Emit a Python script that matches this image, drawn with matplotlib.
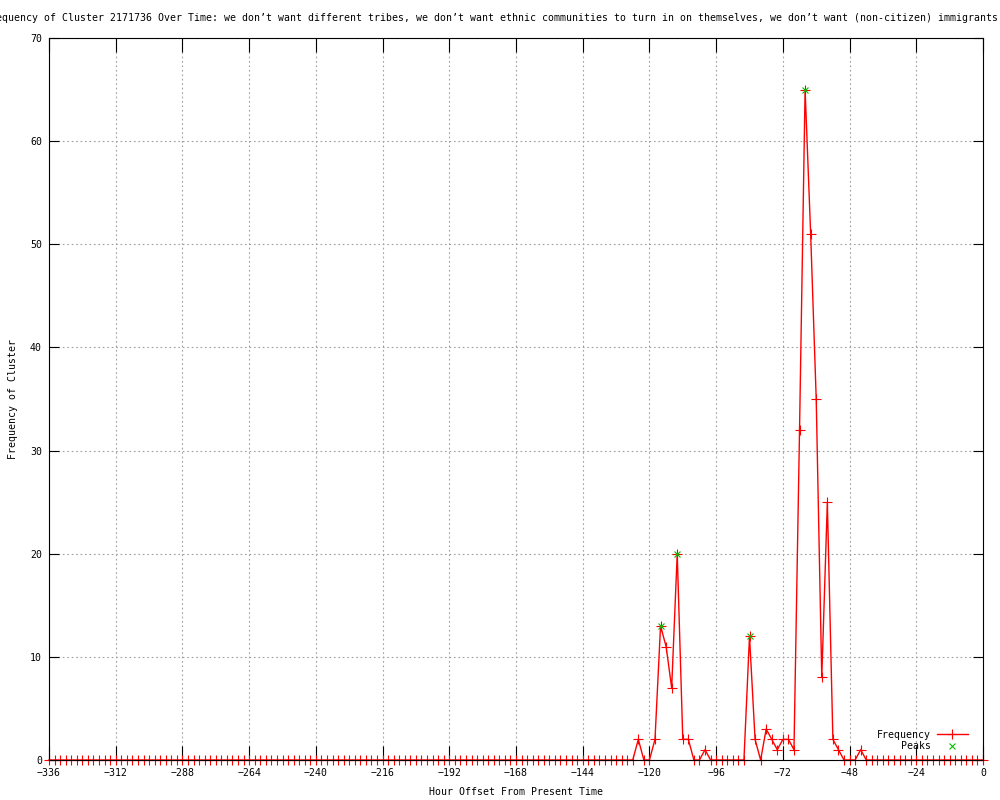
#!/usr/bin/env python3

import matplotlib
matplotlib.use('Agg')
import matplotlib.pyplot as plt

plt.rcParams['font.family'] = ['DejaVu Sans Mono']
plt.rcParams['font.size'] = 7.1

title = ("Frequency of Cluster 2171736 Over Time: we don\u2019t want different tribes, "
         "we don\u2019t want ethnic communities to turn in on themselves, "
         "we don\u2019t want (non-citizen) immigrants")

hours = list(range(-336, 1, 2))
active_hours = [-124, -118, -116, -114, -112, -110, -108, -106, -100,
                -84, -82, -78, -76, -74, -72, -70, -68, -66, -64, -62,
                -60, -58, -56, -54, -52, -44]
active_counts = [2, 2, 13, 11, 7, 20, 2, 2, 1,
                 12, 2, 3, 2, 1, 2, 2, 1, 32, 65, 51,
                 35, 8, 25, 2, 1, 1]
peak_hours = [-116, -110, -84, -64]
peak_counts = [13, 20, 12, 65]

lookup = dict(zip(active_hours, active_counts))
freq = [lookup.get(h, 0) for h in hours]

fig = plt.figure(figsize=(10, 8), dpi=100)
ax = fig.add_axes([0.049, 0.05, 0.934, 0.9025])

ax.plot(hours, freq, color='#ff0000', lw=1, marker='+', ms=6.5,
        mew=0.8, clip_on=False, label='Frequency')
ax.plot(peak_hours, peak_counts, ls='none', color='#00c000', marker='x',
        ms=5, mew=0.8, clip_on=False, label='Peaks', zorder=3)

ax.set_xlim(-336, 0)
ax.set_ylim(0, 70)
ax.set_xticks(range(-336, 1, 24))
ax.set_yticks(range(0, 71, 10))
ax.grid(True, color='#a0a0a0', ls=(0, (1.5, 2.5)), lw=0.8)
ax.set_axisbelow(True)
ax.tick_params(axis='both', direction='in', top=True, right=True,
               color='black', width=0.8, labelsize=7.1)
ax.tick_params(axis='x', length=10, pad=6)
ax.tick_params(axis='y', length=7, pad=5)
for s in ax.spines.values():
    s.set_linewidth(0.8)

ax.set_xlabel('Hour Offset From Present Time', fontsize=7.1, labelpad=6)
ax.set_ylabel('Frequency of Cluster', fontsize=7.1, labelpad=9)
fig.text(0.491, 0.977, title, ha='center', va='center', fontsize=7.1)

ax.legend(loc='lower right', bbox_to_anchor=(0.973, 0.055),
          bbox_transform=fig.transFigure, frameon=False, markerfirst=False,
          handlelength=3.2, handletextpad=0.6, labelspacing=0.15,
          borderpad=0, fontsize=7.1)

plt.savefig('out.png')
